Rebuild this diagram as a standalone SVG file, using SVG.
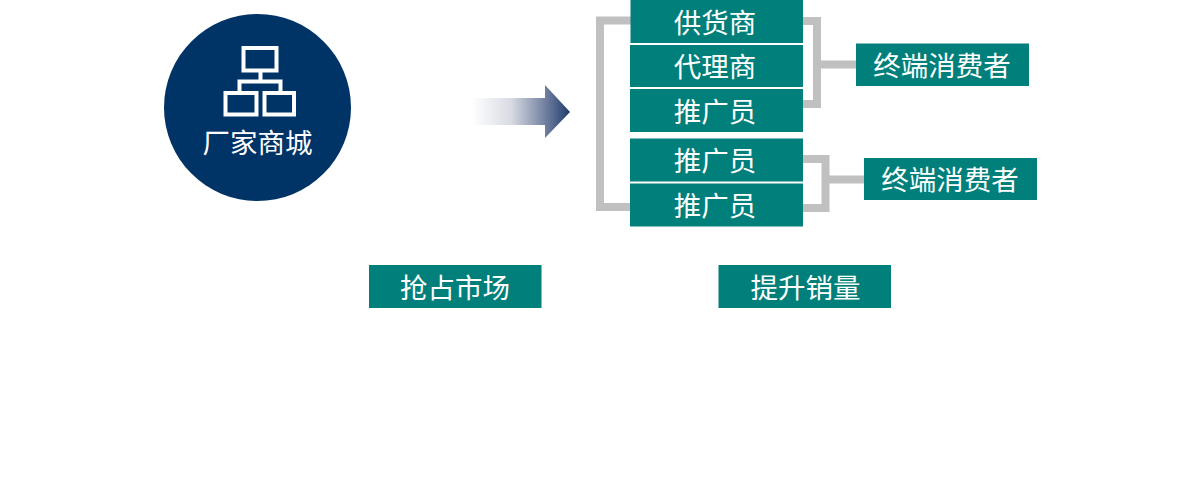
<svg xmlns="http://www.w3.org/2000/svg" width="1200" height="480" viewBox="0 0 1200 480">
<style>
.box{fill:#007f7b}
.t{fill:#fff;font-family:"Noto Sans CJK SC","Noto Sans",sans-serif;font-size:27.500px;font-weight:400;text-anchor:middle}
.conn{fill:none;stroke:#c0c0c0;stroke-width:8}
.ic{fill:none;stroke:#fff;stroke-width:4}
</style>
<defs>
<linearGradient id="g" gradientUnits="userSpaceOnUse" x1="472" y1="0" x2="570" y2="0">
<stop offset="0" stop-color="#fff"/><stop offset="0.4" stop-color="#d8dbe3"/><stop offset="0.75" stop-color="#717f9f"/><stop offset="1" stop-color="#1f3c6e"/>
</linearGradient>
</defs>
<rect width="1200" height="480" fill="#fff"/>
<g id="connectors">
<path class="conn" d="M631 20.500H600V207H631"/>
<path class="conn" d="M803 21H817V104H803M817 64.500H856"/>
<path class="conn" d="M803 159H825.500V208H803M825.500 179.500H864"/>
<polygon fill="url(#g)" points="472,98 545,98 545,85 570,112 545,138 545,125 472,125"/>
</g>
<g id="factory">
<circle cx="257.500" cy="107.500" r="93.500" fill="#003366"/>
<rect class="ic" x="243.500" y="48" width="33" height="22.500"/>
<rect class="ic" x="225.500" y="93" width="31" height="21.500"/>
<rect class="ic" x="264.500" y="93" width="29.500" height="21.500"/>
<path class="ic" d="M260.500 72V81.500M239.500 91V81.500H280.500V91"/>
<text class="t" x="257.500" y="152.500">厂家商城</text>
</g>
<g id="n1"><rect class="box" x="630.500" y="0" width="172.500" height="43"/><text class="t" x="715" y="32.500">供货商</text></g>
<g id="n2"><rect class="box" x="630" y="45" width="173" height="42"/><text class="t" x="715" y="76.500">代理商</text></g>
<g id="n3"><rect class="box" x="630" y="89" width="173" height="43"/><text class="t" x="715" y="121.500">推广员</text></g>
<g id="n4"><rect class="box" x="630" y="138.500" width="173" height="43"/><text class="t" x="715" y="170.500">推广员</text></g>
<g id="n5"><rect class="box" x="630" y="183.500" width="173" height="43"/><text class="t" x="715" y="215.500">推广员</text></g>
<g id="c1"><rect class="box" x="856" y="43.500" width="173" height="42.500"/><text class="t" x="942" y="75.500">终端消费者</text></g>
<g id="c2"><rect class="box" x="864" y="158" width="173" height="42"/><text class="t" x="950" y="189.500">终端消费者</text></g>
<g id="m1"><rect class="box" x="369" y="265" width="172.500" height="43"/><text class="t" x="455" y="297.500">抢占市场</text></g>
<g id="m2"><rect class="box" x="718.500" y="265" width="172.500" height="43"/><text class="t" x="805.500" y="297.500">提升销量</text></g>
</svg>
